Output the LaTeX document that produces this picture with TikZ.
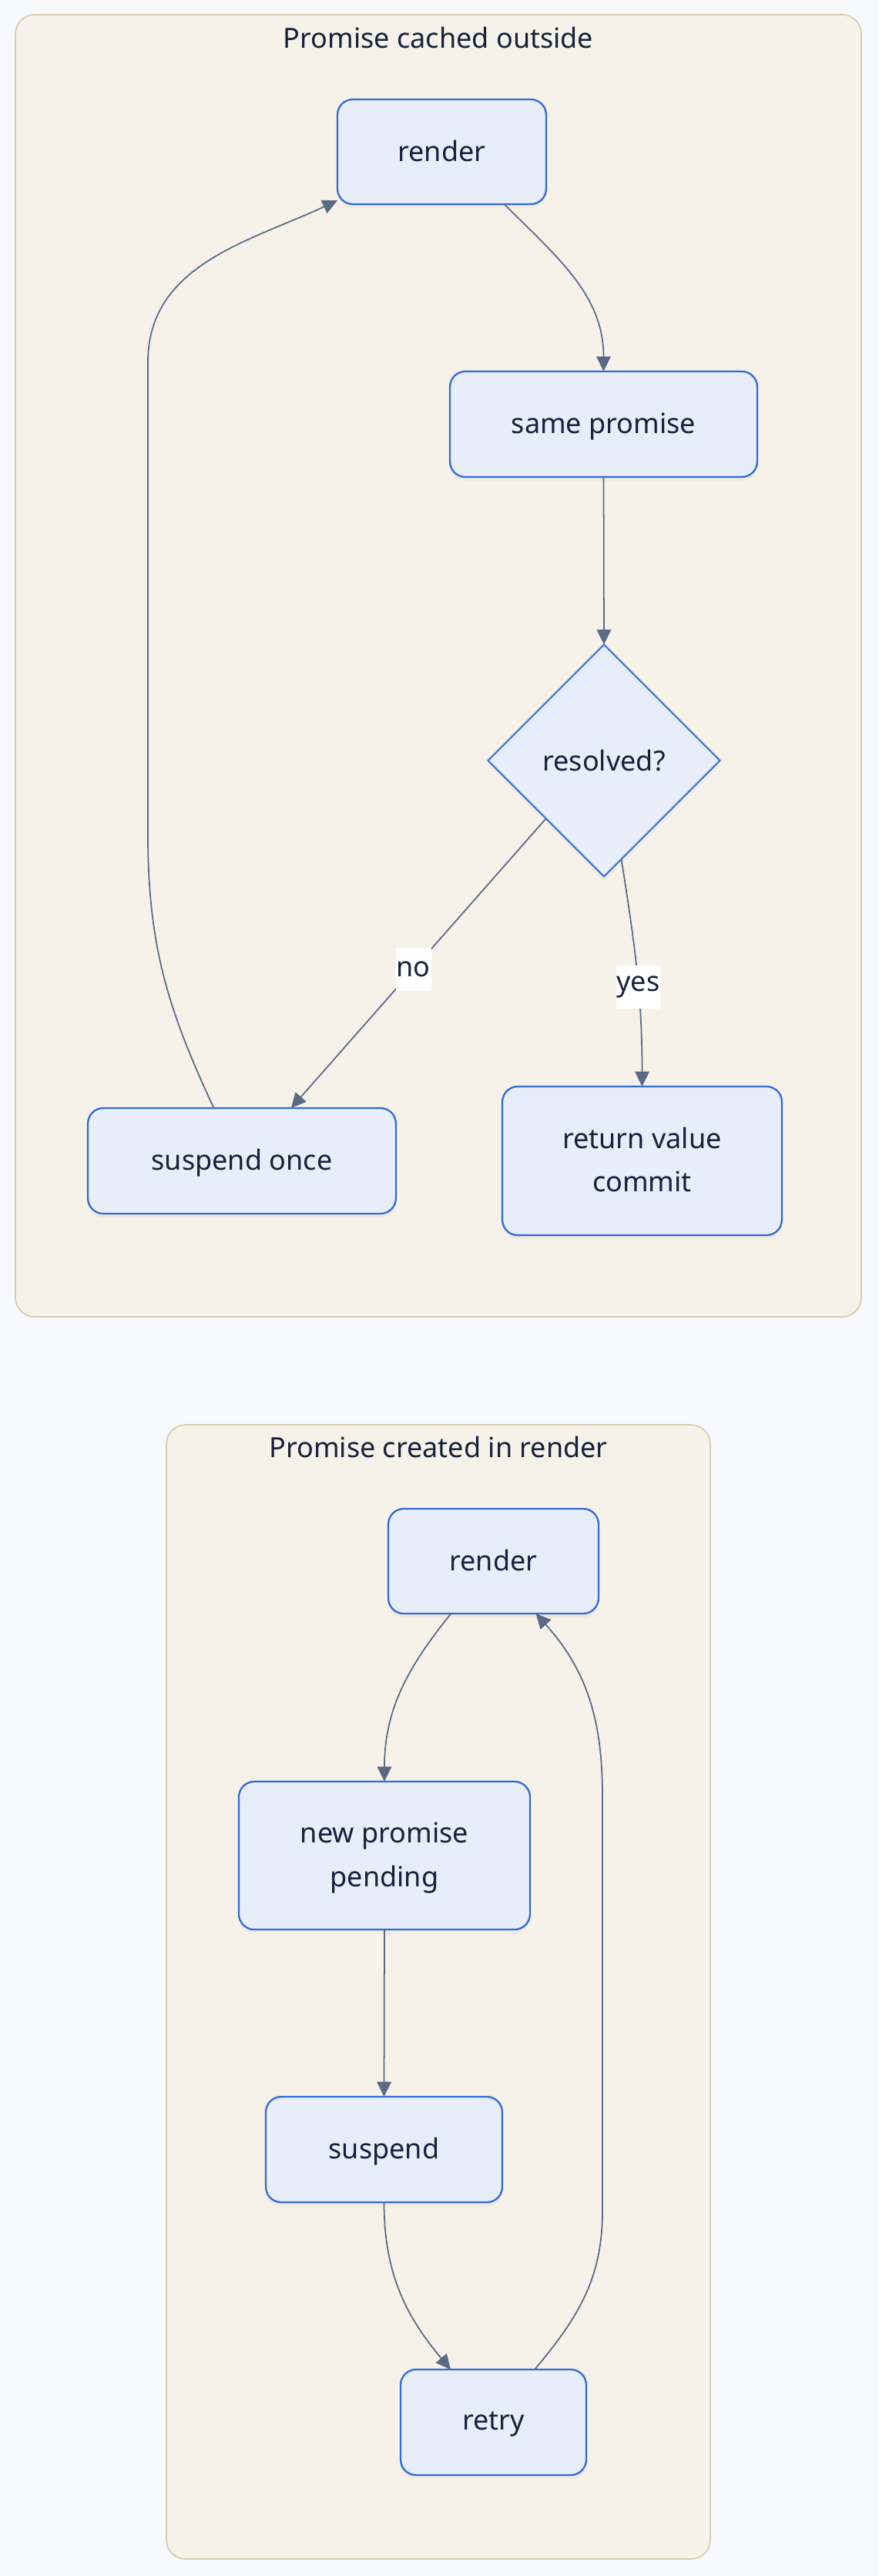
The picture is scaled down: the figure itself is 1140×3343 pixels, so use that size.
\documentclass[tikz,border=0pt]{standalone}
\usepackage{fontspec}
\setmainfont{Noto Sans}
\usetikzlibrary{shapes.geometric,arrows.meta,shadows}
\definecolor{pagebg}{HTML}{F8F9FC}
\definecolor{groupfill}{HTML}{F6F2EA}
\definecolor{groupline}{HTML}{D8CCAE}
\definecolor{nodefill}{HTML}{E8EEF9}
\definecolor{nodeline}{HTML}{2F6BD8}
\definecolor{edgeline}{HTML}{5A6A85}
\definecolor{ink}{HTML}{16223A}
\tikzset{
    cluster/.style={draw=groupline,fill=groupfill,line width=1pt,rounded corners=0.5cm},
    grouptitle/.style={anchor=base,text=ink,font=\fontsize{20.5}{32}\selectfont},
    box/.style={draw=nodeline,fill=nodefill,line width=1.3pt,rounded corners=0.4cm,
        inner sep=0pt,outer sep=0pt,align=center,text=ink,font=\fontsize{20.5}{32}\selectfont,
        text depth=0.3ex,
        drop shadow={shadow xshift=0pt,shadow yshift=-3pt,opacity=0.06}},
    decision/.style={diamond,aspect=1,draw=nodeline,fill=nodefill,line width=1.1pt,
        inner sep=0pt,outer sep=0pt,minimum width=6.02cm,minimum height=6.02cm,
        text=ink,font=\fontsize{20.5}{32}\selectfont,
        drop shadow={shadow xshift=0pt,shadow yshift=-3pt,opacity=0.06}},
    edge/.style={draw=edgeline,line width=1pt,-{Triangle[length=11pt,width=10.5pt]}},
    lbl/.style={fill=white,text=ink,inner xsep=0.5pt,inner ysep=0pt,minimum height=32pt,
        font=\fontsize{20.5}{32}\selectfont}
}
\begin{document}
\begin{tikzpicture}[x=0.02cm,y=0.02cm]
    \fill[pagebg] (0,0) rectangle (1140,-3343);
    \useasboundingbox (0,0) rectangle (1140,-3343);

    % cached outside
    \draw[cluster] (20,-19) rectangle (1118,-1709);
    \node[grouptitle] (title1) at (569,-62) {Promise cached outside};

    \node[box,minimum width=5.42cm,minimum height=2.72cm] (render1) at (573.5,-197) {render};
    \node[box,minimum width=7.98cm,minimum height=2.74cm] (same) at (783.5,-550.5) {same promise};
    \node[decision] (resolved) at (784,-987) {resolved?};
    \node[box,minimum width=8cm,minimum height=2.74cm] (suspend1) at (314,-1506.5) {suspend once};
    \node[box,minimum width=7.26cm,minimum height=3.86cm] (result) at (833.5,-1506.5) {return value\\commit};

    \coordinate (bend1) at (192,-1083);
    \coordinate (bend2) at (192,-470);

    \draw[edge] (render1.-40) to[out=-45,in=90] (same.north);
    \draw[edge] (same.south) -- (resolved.north);
    \draw[edge] (resolved.south west) -- node[lbl,pos=0.52] {no} (suspend1.47);
    \draw[edge] (resolved.-80) to[out=-81,in=90] node[lbl,pos=0.57] {yes} (result.north);
    \draw[edge] (suspend1.118) to[out=115,in=-90] (bend1) -- (bend2) to[out=90,in=-155] (render1.-155);

    % created in render
    \draw[cluster] (216,-1849) rectangle (922,-3321);
    \node[grouptitle] (title2) at (569,-1891) {Promise created in render};

    \node[box,minimum width=5.46cm,minimum height=2.72cm] (render2) at (640.5,-2026) {render};
    \node[box,minimum width=7.56cm,minimum height=3.84cm] (newp) at (499,-2408) {new promise\\pending};
    \node[box,minimum width=6.14cm,minimum height=2.74cm] (suspend2) at (498.5,-2789.5) {suspend};
    \node[box,minimum width=4.82cm,minimum height=2.74cm] (retry) at (640.5,-3143.5) {retry};

    \coordinate (bend3) at (782,-2870);
    \coordinate (bend4) at (782,-2330);

    \draw[edge] (render2.-129) to[out=-129,in=90] (newp.north);
    \draw[edge] (newp.south) -- (suspend2.north);
    \draw[edge] (suspend2.south) to[out=-90,in=130] (retry.129);
    \draw[edge] (retry.52) to[out=50,in=-90] (bend3) -- (bend4) to[out=90,in=-48] (render2.-51);
\end{tikzpicture}
\end{document}
